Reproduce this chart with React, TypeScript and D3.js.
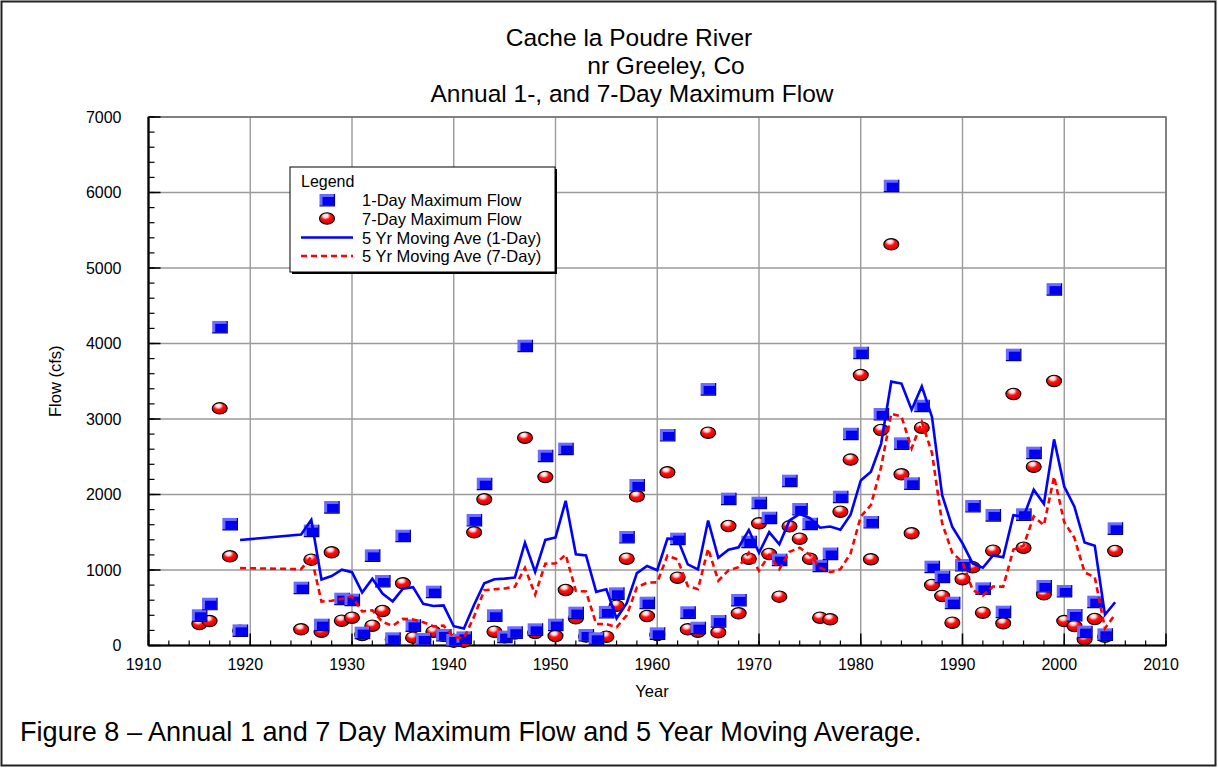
import React from 'react';
import * as d3 from 'd3';

// ---- data ----
const years = [
  1915, 1916, 1917, 1918, 1919,
  1925, 1926, 1927, 1928, 1929, 1930, 1931, 1932, 1933, 1934, 1935, 1936, 1937, 1938, 1939,
  1940, 1941, 1942, 1943, 1944, 1945, 1946, 1947, 1948, 1949, 1950, 1951, 1952, 1953, 1954,
  1955, 1956, 1957, 1958, 1959, 1960, 1961, 1962, 1963, 1964, 1965, 1966, 1967, 1968, 1969,
  1970, 1971, 1972, 1973, 1974, 1975, 1976, 1977, 1978, 1979, 1980, 1981, 1982, 1983, 1984,
  1985, 1986, 1987, 1988, 1989, 1990, 1991, 1992, 1993, 1994, 1995, 1996, 1997, 1998, 1999,
  2000, 2001, 2002, 2003, 2004, 2005,
];

const oneDayMax = [
  400, 553, 4220, 1610, 200,
  766, 1521, 276, 1834, 620, 607, 170, 1194, 854, 95, 1454, 267, 86, 713, 139,
  73, 108, 1662, 2143, 400, 117, 175, 3971, 214, 2514, 276, 2607, 435, 139, 95,
  444, 691, 1437, 2126, 567, 161, 2788, 1415, 440, 236, 3397, 324, 1945, 603, 1375,
  1892, 1693, 1137, 2183, 1808, 1613, 1057, 1218, 1971, 2805, 3878, 1636, 3066, 6090, 2678,
  2148, 3176, 1044, 911, 567, 1066, 1848, 757, 1728, 448, 3852, 1738, 2554, 788, 4720,
  722, 404, 183, 580, 148, 1552,
];

const sevenDayMax = [
  285, 324, 3141, 1181, 195,
  214, 1137, 183, 1234, 329, 368, 140, 262, 457, 80, 824, 104, 80, 183, 130,
  51, 51, 1499, 1936, 183, 110, 160, 2752, 166, 2232, 126, 735, 360, 120, 85,
  117, 527, 1150, 1976, 391, 140, 2294, 898, 214, 183, 2819, 175, 1583, 426, 1150,
  1618, 1212, 647, 1578, 1415, 1150, 368, 347, 1772, 2462, 3583, 1142, 2854, 5314, 2267,
  1486, 2885, 801, 656, 302, 877, 1035, 435, 1256, 294, 3331, 1295, 2368, 678, 3503,
  324, 258, 82, 351, 117, 1252,
];

const xTicks = [1910, 1920, 1930, 1940, 1950, 1960, 1970, 1980, 1990, 2000, 2010];
const yTicks = [0, 1000, 2000, 3000, 4000, 5000, 6000, 7000];
const titleLines = ['Cache la Poudre River', 'nr Greeley, Co', 'Annual 1-, and 7-Day Maximum Flow'];
const legendLabels = [
  '1-Day Maximum Flow',
  '7-Day Maximum Flow',
  '5 Yr Moving Ave (1-Day)',
  '5 Yr Moving Ave (7-Day)',
];
const caption = 'Figure 8 \u2013 Annual 1 and 7 Day Maximum Flow and 5 Year Moving Average.';

const FONT = '"Liberation Sans", Arial, Helvetica, sans-serif';

// 5-point trailing moving average of the recorded values (as defined by the chart)
function movingAverage(arr: number[], n: number): (number | null)[] {
  return arr.map((_, i) => (i < n - 1 ? null : (d3.mean(arr.slice(i - n + 1, i + 1)) as number)));
}

function Square({ cx, cy }: { cx: number; cy: number }) {
  return (
    <g transform={`translate(${cx},${cy})`}>
      <rect x={-7.5} y={-6} width={15} height={12} fill="#6b6bff" />
      <rect x={-4.5} y={-3} width={11.5} height={8.5} fill="#0000f0" />
      <path d="M7.5,-6 L7.5,6 L-7.5,6" fill="none" stroke="#000090" strokeWidth={1.2} />
    </g>
  );
}

function Ball({ cx, cy }: { cx: number; cy: number }) {
  return (
    <ellipse cx={cx} cy={cy} rx={7.5} ry={5.7} fill="url(#ballGrad)" stroke="#000" strokeWidth={1.1} />
  );
}

export default function App() {
  const x = d3.scaleLinear().domain([1910, 2010]).range([148.5, 1166]);
  const y = d3.scaleLinear().domain([0, 7000]).range([645.5, 117]);
  const [x0, x1] = x.range();
  const [y0, y1] = y.range();

  const ma1 = movingAverage(oneDayMax, 5);
  const ma7 = movingAverage(sevenDayMax, 5);

  const line = d3
    .line<[number, number | null]>()
    .defined((d) => d[1] !== null)
    .x((d) => x(d[0]))
    .y((d) => y(d[1] as number));

  const ma1Path = line(years.map((yr, i) => [yr, ma1[i]]) as [number, number | null][]) || '';
  const ma7Path = line(years.map((yr, i) => [yr, ma7[i]]) as [number, number | null][]) || '';

  const xMinor = d3.range(1910, 2010.1, 2);
  const yMinor = d3.range(0, 7000.1, 200);

  const lg = { x: 290, y: 167, w: 265, h: 105 };
  const rowY = [200, 218.5, 237.5, 256];

  return (
    <svg
      width={1218}
      height={768}
      style={{ position: 'absolute', left: 0, top: 0, background: '#fff' }}
      fontFamily={FONT}
    >
      <defs>
        <radialGradient id="ballGrad" cx="0.42" cy="0.3" r="0.75" fx="0.4" fy="0.25">
          <stop offset="0" stopColor="#ffffff" />
          <stop offset="0.22" stopColor="#ffd0d0" />
          <stop offset="0.45" stopColor="#ff1010" />
          <stop offset="0.85" stopColor="#e00000" />
          <stop offset="1" stopColor="#900000" />
        </radialGradient>
      </defs>
      <rect x={0} y={0} width={1218} height={768} fill="#fff" />
      <rect x={1.5} y={1.5} width={1214} height={764} fill="none" stroke="#222" strokeWidth={2} />

      {/* title */}
      <text x={629} y={46} fontSize={24.5} textAnchor="middle" fill="#000">{titleLines[0]}</text>
      <text x={666} y={74} fontSize={24.5} textAnchor="middle" fill="#000">{titleLines[1]}</text>
      <text x={632} y={102} fontSize={24.5} textAnchor="middle" fill="#000">{titleLines[2]}</text>

      {/* grid */}
      {xTicks.map((t) => (
        <line key={'gx' + t} x1={x(t)} x2={x(t)} y1={y1} y2={y0} stroke="#9a9a9a" strokeWidth={1.4} />
      ))}
      {yTicks.map((t) => (
        <line key={'gy' + t} x1={x0} x2={x1} y1={y(t)} y2={y(t)} stroke="#9a9a9a" strokeWidth={1.4} />
      ))}
      <rect x={x0} y={y1} width={x1 - x0} height={y0 - y1} fill="none" stroke="#707070" strokeWidth={1.5} />

      {/* minor and major ticks */}
      {xMinor.map((t) => (
        <line key={'mx' + t} x1={x(t)} x2={x(t)} y1={y0} y2={y0 - 5} stroke="#000" strokeWidth={1.2} />
      ))}
      {xTicks.map((t) => (
        <line key={'Mx' + t} x1={x(t)} x2={x(t)} y1={y0} y2={y0 - 12} stroke="#000" strokeWidth={1.5} />
      ))}
      {yMinor.map((t) => (
        <line key={'my' + t} x1={x0} x2={x0 + 6} y1={y(t)} y2={y(t)} stroke="#000" strokeWidth={1.2} />
      ))}
      {yTicks.map((t) => (
        <line key={'My' + t} x1={x0} x2={x0 + 12} y1={y(t)} y2={y(t)} stroke="#000" strokeWidth={1.5} />
      ))}
      <line x1={x0} x2={x0} y1={y1} y2={y0} stroke="#000" strokeWidth={2.2} />
      <line x1={x0} x2={x1} y1={y0} y2={y0} stroke="#000" strokeWidth={2.2} />

      {/* tick labels */}
      {xTicks.map((t) => (
        <text key={'lx' + t} x={x(t) - 5} y={670} fontSize={16} textAnchor="middle" fill="#000">
          {t}
        </text>
      ))}
      {yTicks.map((t) => (
        <text key={'ly' + t} x={121.5} y={y(t) + 5.5} fontSize={16} textAnchor="end" fill="#000">
          {t}
        </text>
      ))}
      <text x={652} y={697} fontSize={16.5} textAnchor="middle" fill="#000">Year</text>
      <text
        transform={`translate(61,${(y0 + y1) / 2}) rotate(-90)`}
        fontSize={16.5}
        textAnchor="middle"
        fill="#000"
      >
        Flow (cfs)
      </text>

      {/* markers */}
      {years.map((yr, i) => (
        <Ball key={'b' + yr} cx={x(yr)} cy={y(sevenDayMax[i])} />
      ))}
      {years.map((yr, i) => (
        <Square key={'s' + yr} cx={x(yr)} cy={y(oneDayMax[i])} />
      ))}

      {/* moving averages */}
      <path d={ma1Path} fill="none" stroke="#0000ff" strokeWidth={2.6} strokeLinejoin="miter" />
      <path d={ma7Path} fill="none" stroke="#ff0000" strokeWidth={2.6} strokeDasharray="6,4" />

      {/* legend */}
      <rect x={lg.x + 2} y={lg.y + 2} width={lg.w} height={lg.h} fill="#000" />
      <rect x={lg.x} y={lg.y} width={lg.w} height={lg.h} fill="#fff" stroke="#000" strokeWidth={1} />
      <text x={301} y={187} fontSize={16} fill="#000">Legend</text>
      <Square cx={327} cy={rowY[0]} />
      <Ball cx={327} cy={rowY[1]} />
      <line x1={301} x2={353} y1={rowY[2]} y2={rowY[2]} stroke="#0000ff" strokeWidth={2.6} />
      <line x1={301} x2={353} y1={rowY[3]} y2={rowY[3]} stroke="#ff0000" strokeWidth={2.6} strokeDasharray="6,4" />
      {legendLabels.map((l, i) => (
        <text key={l} x={362} y={rowY[i] + 6} fontSize={16.5} fill="#000">
          {l}
        </text>
      ))}

      {/* caption */}
      <text x={20} y={741} fontSize={27.1} fill="#000">{caption}</text>
    </svg>
  );
}
